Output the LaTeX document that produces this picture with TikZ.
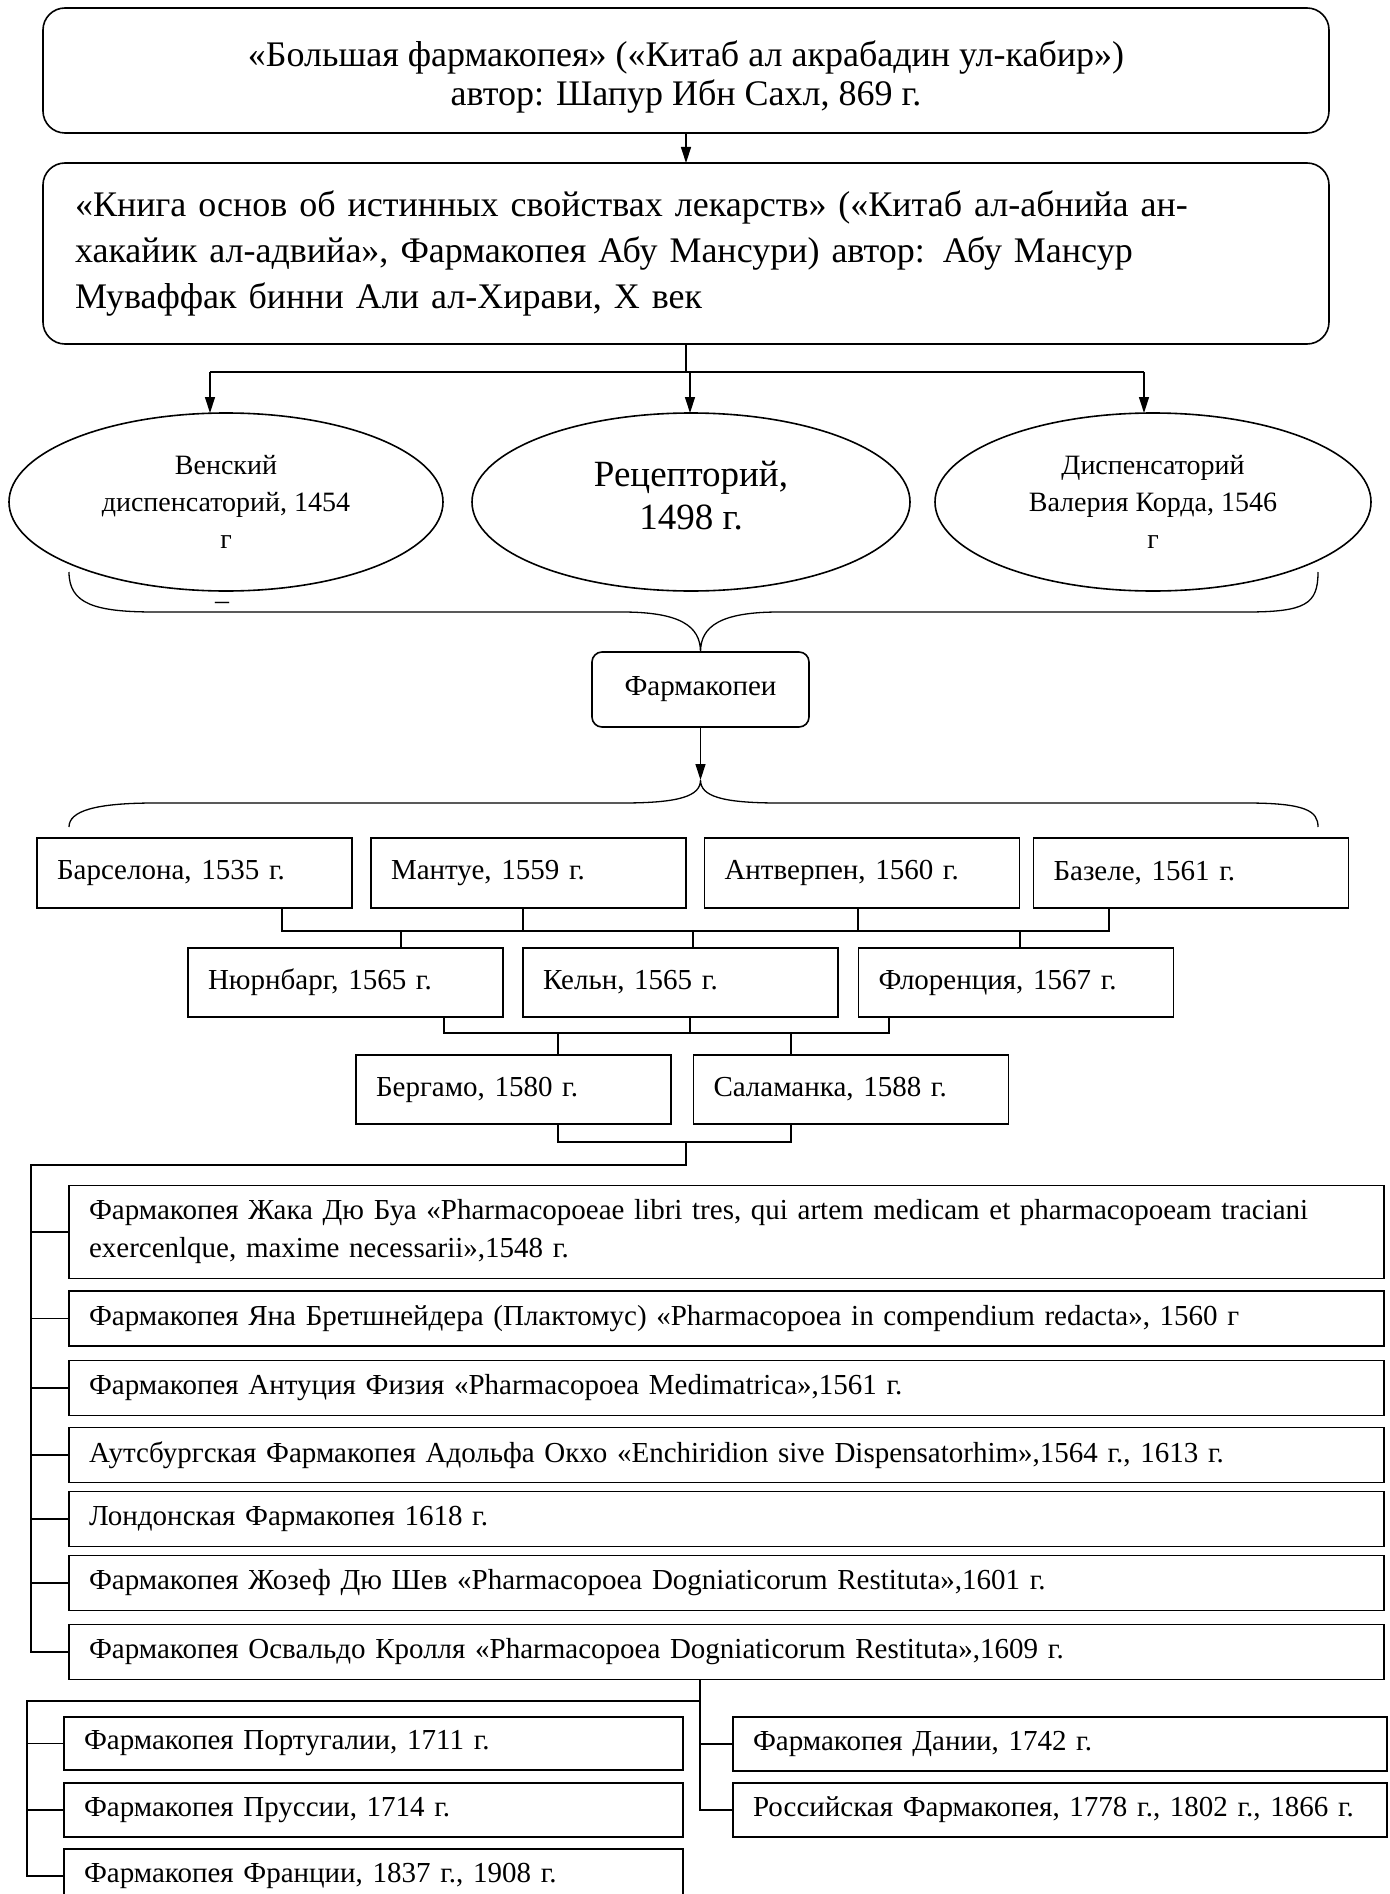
\documentclass[tikz,border=0pt]{standalone}
\usepackage{fontspec}
\setmainfont{Liberation Serif}
\usetikzlibrary{shapes.geometric,arrows.meta,calc}
\begin{document}
\begin{tikzpicture}[x=1pt,y=-1pt,
  every node/.style={inner sep=0pt, outer sep=0pt},
  conn/.style={line width=1.3pt},
  arr/.style={conn, -{Triangle[length=16pt,width=10pt]}},
  rbox/.style={draw, line width=1.6pt, rounded corners=22pt},
  ell/.style={draw, ellipse, line width=1.6pt, align=center},
  sbox/.style={draw, line width=1.6pt, inner xsep=20pt, align=left,
     font=\fontsize{29}{37}\selectfont, text width=#1},
  rowbox/.style={sbox=275pt, minimum height=70pt},
  listbox/.style={sbox=1275pt, minimum height=55pt},
  lbox/.style={sbox=579pt, minimum height=54pt},
  rbx/.style={sbox=614pt, minimum height=54pt}]
\useasboundingbox (0,0) rectangle (1389,1894);
\clip (0,0) rectangle (1389,1894);

% top boxes
\node[rbox, minimum width=1286pt, minimum height=125pt] (top) at (686,70.5) {};
\node[align=center, font=\fontsize{36}{39}\selectfont] (toptext) at (686,77)
  {«Большая фармакопея» («Китаб ал акрабадин ул-кабир»)\\автор: Шапур Ибн Сахл, 869 г.};
\node[rbox, minimum height=181pt, text width=1222pt, inner xsep=32pt, align=left,
  font=\fontsize{36}{46}\selectfont] (second) at (686,253.5)
  {«Книга основ об истинных свойствах лекарств» («Китаб ал-абнийа ан-\\хакайик ал-адвийа», Фармакопея Абу Мансури) автор: Абу Мансур\\Муваффак бинни Али ал-Хирави, X век};
\draw[arr] (top.south) -- (second.north);

% ellipses
\node[ell, minimum width=434pt, minimum height=178pt, font=\fontsize{28}{37}\selectfont]
  (e1) at (226,502) {Венский\\диспенсаторий, 1454\\г};
\node[ell, minimum width=438pt, minimum height=178pt] (e2) at (691,502) {};
\node[align=center, font=\fontsize{37}{43}\selectfont] (e2text) at (691,496) {Рецепторий,\\1498 г.};
\node[ell, minimum width=436pt, minimum height=178pt, font=\fontsize{28}{37}\selectfont]
  (e3) at (1153,502) {Диспенсаторий\\Валерия Корда, 1546\\г};
\coordinate (bus0) at (686,372);
\draw[conn] (second.south) -- (bus0);
\draw[conn] ([xshift=-16pt]e1.north |- bus0) -- ([xshift=-9pt]e3.north |- bus0);
\draw[arr] ([xshift=-16pt]e1.north |- bus0) -- ([xshift=-16pt]e1.north);
\draw[arr] ([xshift=-1pt]e2.north |- bus0) -- ([xshift=-1pt]e2.north);
\draw[arr] ([xshift=-9pt]e3.north |- bus0) -- ([xshift=-9pt]e3.north);
\node[font=\fontsize{28}{30}\selectfont] (dash) at (222,606) {–};

% Pharmacopoeias box and braces
\node[draw, line width=1.6pt, rounded corners=10pt, minimum width=217pt, minimum height=75pt,
  font=\fontsize{29}{37}\selectfont] (ph) at (700.5,689.5) {Фармакопеи};
\draw[conn] (69,572) .. controls (69,604) and (95,612) .. (155,612) -- (622,612)
  .. controls (680,612) and (700.5,626) .. (ph.north)
  .. controls (700.5,626) and (721,612) .. (779,612) -- (1246,612)
  .. controls (1306,612) and (1318,604) .. (1318,572);
\coordinate (b2) at (700.5,780);
\draw[arr] (ph.south) -- (b2);
\draw[conn] (69,827) .. controls (69,811) and (95,803) .. (155,803) -- (622,803)
  .. controls (680,803) and (700.5,796) .. (b2)
  .. controls (700.5,796) and (721,803) .. (779,803) -- (1246,803)
  .. controls (1306,803) and (1318,811) .. (1318,827);

% row 1
\node[rowbox] (B1) at (194.5,873) {Барселона, 1535 г.};
\node[rowbox] (B2) at (528.5,873) {Мантуе, 1559 г.};
\node[rowbox] (B3) at (862,873) {Антверпен, 1560 г.};
\node[rowbox] (B4) at (1191,873) {Базеле, 1561 г.};
% row 2
\node[rowbox, minimum height=69pt] (N) at (345.5,982.5) {Нюрнбарг, 1565 г.};
\node[rowbox, minimum height=69pt] (K) at (680.5,982.5) {Кельн, 1565 г.};
\node[rowbox, minimum height=69pt] (F) at (1016,982.5) {Флоренция, 1567 г.};
% row 3
\node[rowbox, minimum height=69pt] (Bg) at (513.5,1089.5) {Бергамо, 1580 г.};
\node[rowbox, minimum height=69pt] (S) at (851,1089.5) {Саламанка, 1588 г.};

\coordinate (j1) at (0,931);
\draw[conn] ([xshift=87.5pt]B1.south) -- ([xshift=87.5pt]B1.south |- j1)
  -- ([xshift=-82pt]B4.south |- j1) -- ([xshift=-82pt]B4.south);
\draw[conn] ([xshift=-5.5pt]B2.south) -- ([xshift=-5.5pt]B2.south |- j1);
\draw[conn] ([xshift=-4pt]B3.south) -- ([xshift=-4pt]B3.south |- j1);
\draw[conn] ([xshift=55.5pt]N.north |- j1) -- ([xshift=55.5pt]N.north);
\draw[conn] ([xshift=12.5pt]K.north |- j1) -- ([xshift=12.5pt]K.north);
\draw[conn] ([xshift=4pt]F.north |- j1) -- ([xshift=4pt]F.north);

\coordinate (j2) at (0,1033);
\draw[conn] ([xshift=98.5pt]N.south) -- ([xshift=98.5pt]N.south |- j2)
  -- ([xshift=-127pt]F.south |- j2) -- ([xshift=-127pt]F.south);
\draw[conn] ([xshift=9.5pt]K.south) -- ([xshift=9.5pt]K.south |- j2);
\draw[conn] ([xshift=44.5pt]Bg.north |- j2) -- ([xshift=44.5pt]Bg.north);
\draw[conn] ([xshift=-60pt]S.north |- j2) -- ([xshift=-60pt]S.north);

\coordinate (j3) at (0,1142);
\draw[conn] ([xshift=44.5pt]Bg.south) -- ([xshift=44.5pt]Bg.south |- j3)
  -- ([xshift=-60pt]S.south |- j3) -- ([xshift=-60pt]S.south);

% list
\node[listbox, minimum height=93pt, font=\fontsize{29}{38}\selectfont] (L1) at (726.5,1232)
  {Фармакопея Жака Дю Буа «Pharmacopoeae libri tres, qui artem medicam et pharmacopoeam traciani\\exercenlque, maxime necessarii»,1548 г.};
\node[listbox] (L2) at (726.5,1318.5) {Фармакопея Яна Бретшнейдера (Плактомус) «Pharmacopoea in compendium redacta», 1560 г};
\node[listbox] (L3) at (726.5,1388) {Фармакопея Антуция Физия «Pharmacopoea Medimatrica»,1561 г.};
\node[listbox] (L4) at (726.5,1455) {Аутсбургская Фармакопея Адольфа Окхо «Enchiridion sive Dispensatorhim»,1564 г., 1613 г.};
\node[listbox] (L5) at (726.5,1519) {Лондонская Фармакопея 1618 г.};
\node[listbox] (L6) at (726.5,1583) {Фармакопея Жозеф Дю Шев «Pharmacopoea Dogniaticorum Restituta»,1601 г.};
\node[listbox] (L7) at (726.5,1652) {Фармакопея Освальдо Кролля «Pharmacopoea Dogniaticorum Restituta»,1609 г.};

\coordinate (j4) at (686,1142);
\coordinate (j5) at (31,1165);
\draw[conn] (j4) |- (j5) |- (L7.west);
\foreach \n in {L1,L2,L3,L4,L5,L6}
  \draw[conn] (j5 |- \n.west) -- (\n.west);

% bottom
\node[lbox, minimum height=53pt] (P1) at (373.5,1743.5) {Фармакопея Португалии, 1711 г.};
\node[lbox] (P2) at (373.5,1810) {Фармакопея Пруссии, 1714 г.};
\node[lbox] (P3) at (373.5,1876) {Фармакопея Франции, 1837 г., 1908 г.};
\node[rbx] (R1) at (1060,1744) {Фармакопея Дании, 1742 г.};
\node[rbx] (R2) at (1060,1810) {Российская Фармакопея, 1778 г., 1802 г., 1866 г.};

\coordinate (k2) at (27,1701);
\draw[conn] ([xshift=-26.5pt]L7.south) |- (R2.west);
\draw[conn] ([xshift=-26.5pt]L7.south |- R1.west) -- (R1.west);
\draw[conn] ([xshift=-26.5pt]L7.south |- k2) -- (k2) |- (P3.west);
\draw[conn] (k2 |- P1.west) -- (P1.west);
\draw[conn] (k2 |- P2.west) -- (P2.west);
\end{tikzpicture}
\end{document}
